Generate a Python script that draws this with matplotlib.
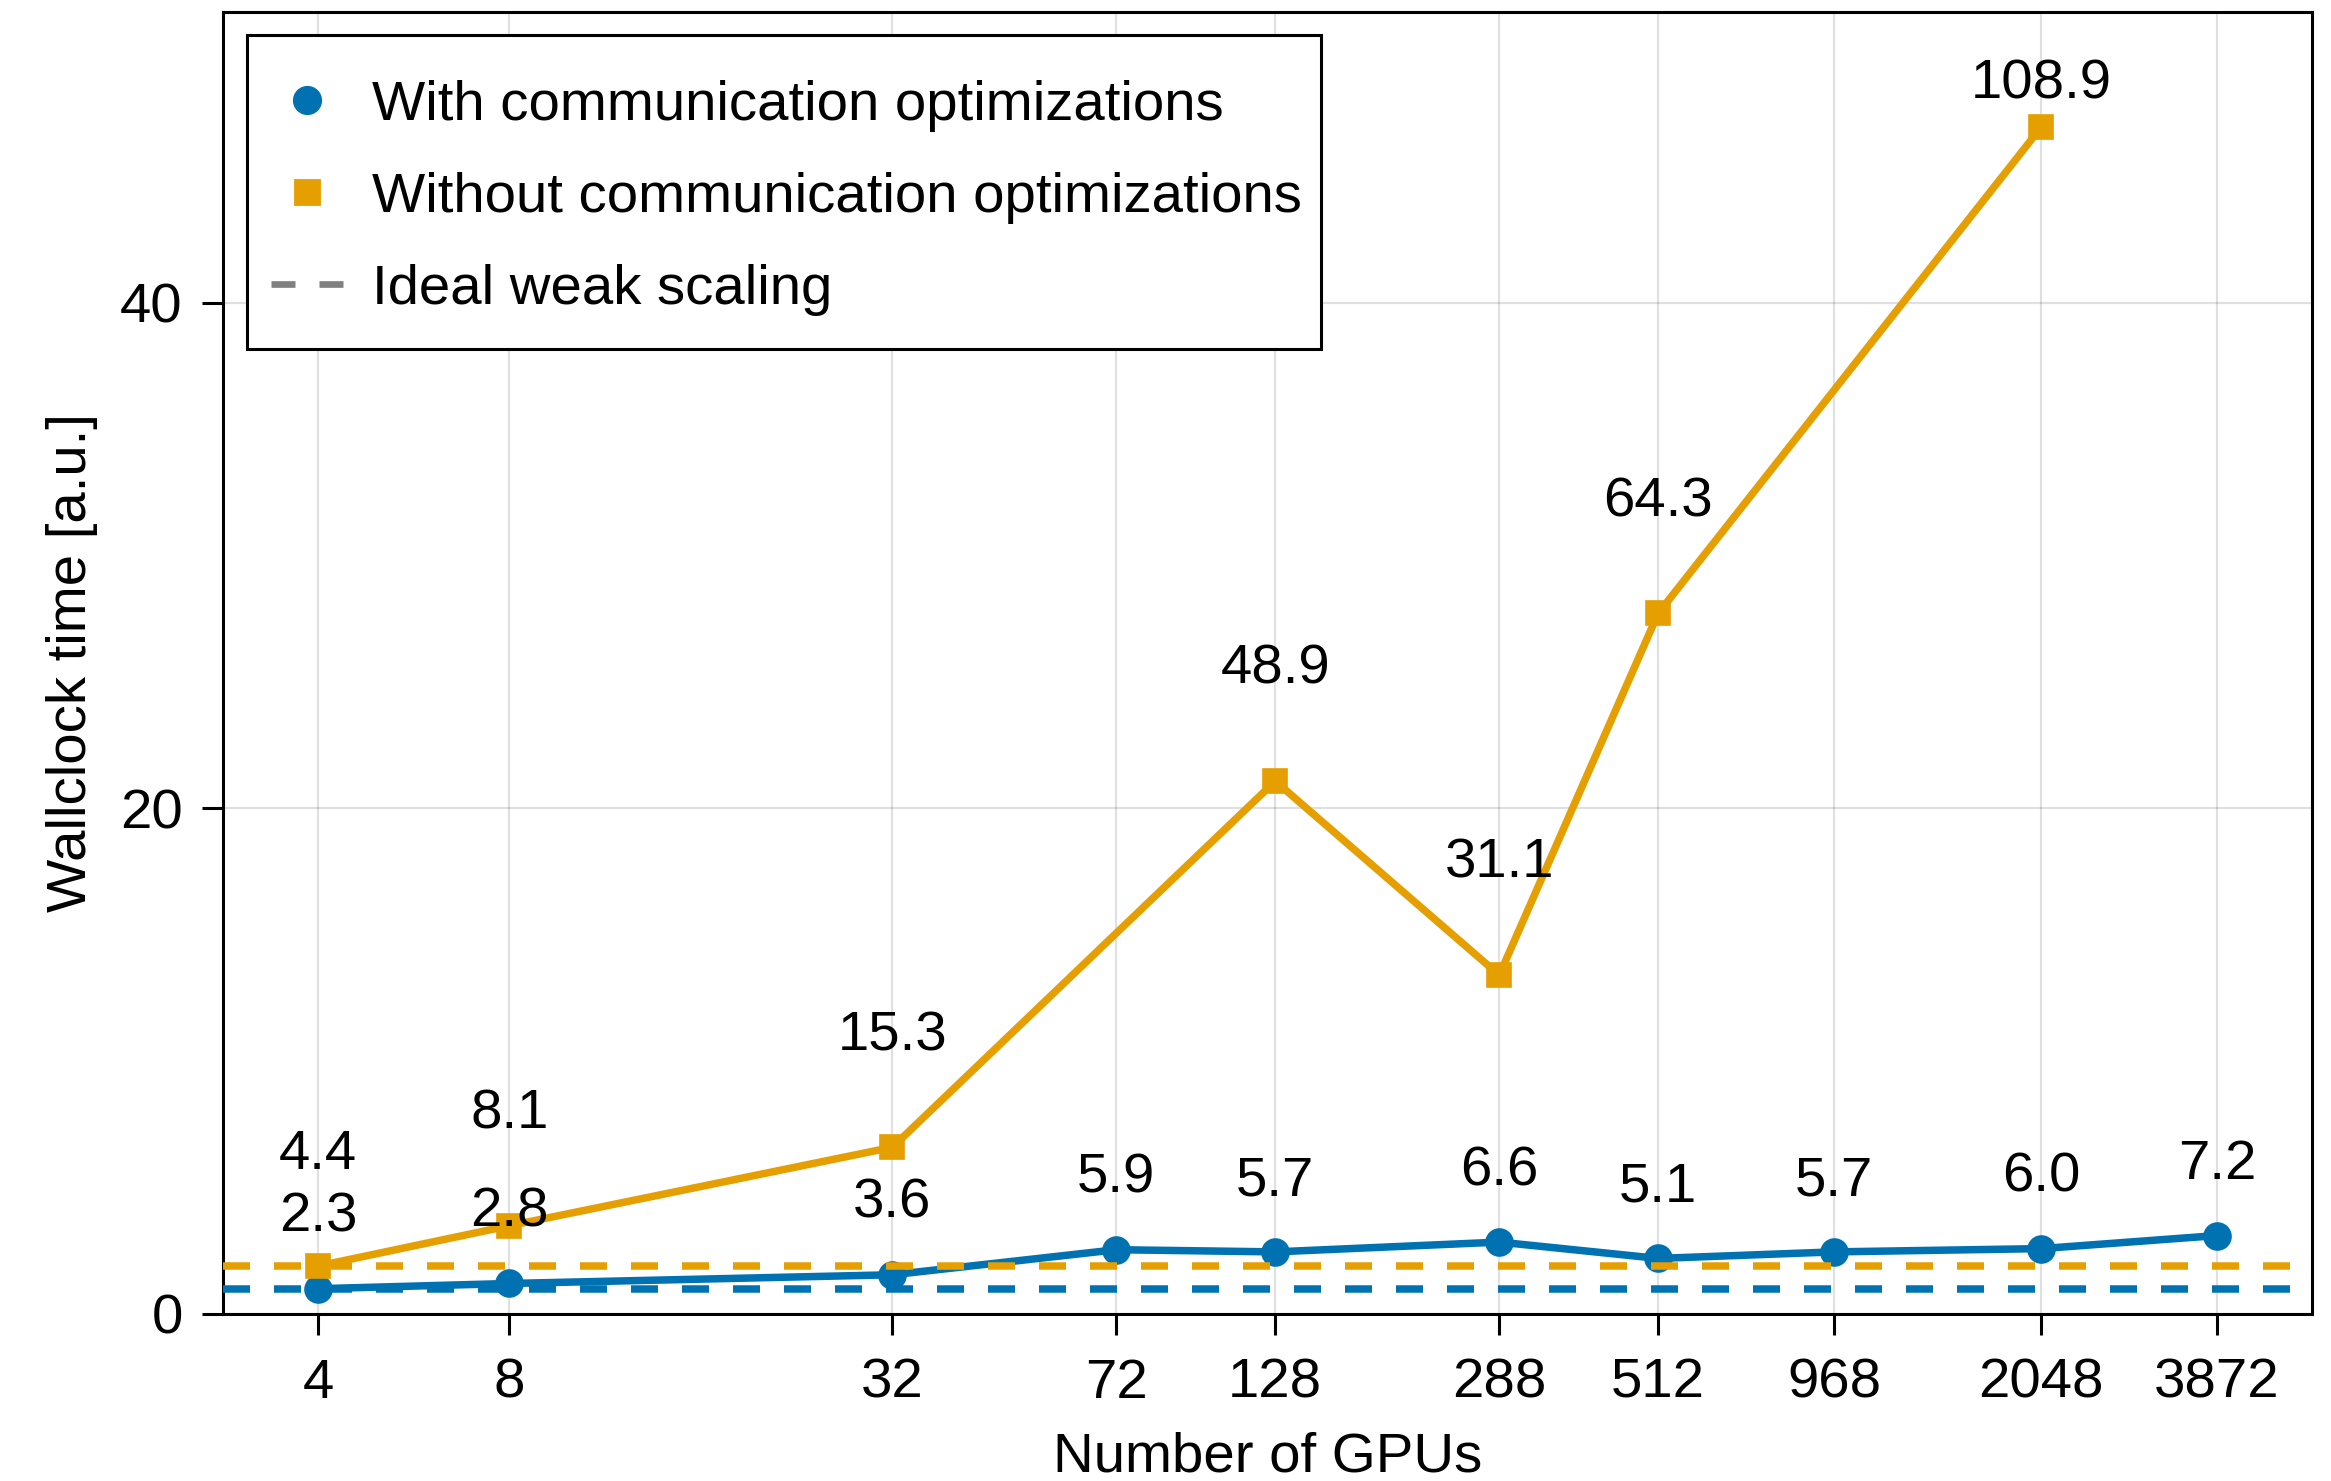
import numpy as np
import matplotlib
matplotlib.use("Agg")
import matplotlib.pyplot as plt
from matplotlib.lines import Line2D
from matplotlib.patches import Rectangle

plt.rcParams['font.family'] = ['Liberation Sans', 'DejaVu Sans']

# Weak-scaling benchmark: wallclock time per run
gpus = [4, 8, 32, 72, 128, 288, 512, 968, 2048, 3872]
time_with = [2.32, 2.8, 3.6, 5.9, 5.7, 6.6, 5.1, 5.7, 6.0, 7.2]
gpus_without = [4, 8, 32, 128, 288, 512, 2048]
time_without = [4.4, 8.1, 15.3, 48.9, 31.1, 64.3, 108.9]

# Times are shown relative to the optimized run on the smallest setup
t_ref = time_with[0]
y_with = np.array(time_with) / t_ref
y_without = np.array(time_without) / t_ref

BLUE = '#0072B2'
ORANGE = '#E69F00'
FS = 20.3

W, H, DPI = 2331, 1481, 200
AX_L, AX_R, AX_T, AX_B = 223, 2312, 12, 1314
AW, AH = AX_R - AX_L, AX_B - AX_T
fig = plt.figure(figsize=(W / DPI, H / DPI), dpi=DPI)
ax = fig.add_axes([AX_L / W, 1 - AX_B / H, AW / W, AH / H])


def ax_x(px):
    return (px - AX_L) / AW


def ax_y(px):
    return 1 - (px - AX_T) / AH


ax.set_xscale('log', base=2)
lo, hi = np.log2(gpus[0]), np.log2(gpus[-1])
pad = 0.05 * (hi - lo)
ax.set_xlim(2 ** (lo - pad), 2 ** (hi + pad))
ymax = 51.5
ax.set_ylim(0, ymax)

lw = 2.7
ax.plot(gpus, y_with, color=BLUE, lw=lw, marker='o', ms=9.5, mew=0.8, zorder=3)
ax.plot(gpus_without, y_without, color=ORANGE, lw=lw, marker='s', ms=8.4, mew=0.6, zorder=3)

# Ideal weak scaling: constant time at the smallest configuration
DASH = (3.6, 3.2)
ax.axhline(y_with[0], color=BLUE, lw=2.7, dashes=DASH, zorder=4)
ax.axhline(y_without[0], color=ORANGE, lw=2.7, dashes=DASH, zorder=4)

# Absolute timings written above each point
for x, y, t in zip(gpus, y_with, time_with):
    ax.text(x, y + 2.8, f"{t:.1f}", ha='center', va='center', fontsize=FS, zorder=5)
for x, y, t in zip(gpus_without, y_without, time_without):
    ty = min(y + 4.4, ymax - 2.85)
    ax.text(x, ty, f"{t:.1f}", ha='center', va='center', fontsize=FS, zorder=5)

ax.set_xticks(gpus)
ax.set_xticklabels([str(g) for g in gpus])
ax.xaxis.set_minor_locator(matplotlib.ticker.NullLocator())
ax.set_yticks([0, 20, 40])
ax.tick_params(axis='both', direction='out', length=7.5, width=1.1, labelsize=FS)
ax.tick_params(axis='x', pad=8.3)
ax.tick_params(axis='y', pad=7)
ax.grid(True, color='black', alpha=0.12, lw=0.8, zorder=0)
ax.set_axisbelow(True)
for s in ax.spines.values():
    s.set_linewidth(1.1)

ax.set_xlabel("Number of GPUs", fontsize=FS)
ax.set_ylabel("Wallclock time [a.u.]", fontsize=FS)
ax.xaxis.set_label_coords(0.5, ax_y(1458))
ax.xaxis.label.set_va('center')
ax.yaxis.set_label_coords(ax_x(72), 0.5)
ax.yaxis.label.set_va('center')

# Legend box with its entries
box = Rectangle((ax_x(247), ax_y(349)), ax_x(1321) - ax_x(247), ax_y(35) - ax_y(349),
                transform=ax.transAxes, facecolor='white', edgecolor='black',
                lw=1.1, zorder=6, clip_on=False)
ax.add_patch(box)

handles = [
    Line2D([], [], color=BLUE, marker='o', ms=10, mew=0.5, ls='none'),
    Line2D([], [], color=ORANGE, marker='s', ms=9.2, mew=0.3, ls='none'),
    Line2D([], [], color='gray', lw=2.4, dashes=(3.6, 3.6)),
]
labels = ["With communication optimizations",
          "Without communication optimizations",
          "Ideal weak scaling"]
leg = ax.legend(handles, labels, loc='center left',
                bbox_to_anchor=(ax_x(271), ax_y(198)), borderaxespad=0,
                fontsize=FS, frameon=False, borderpad=0, labelspacing=0.71,
                handlelength=1.29, handletextpad=0.5)
leg.set_zorder(7)

fig.savefig("out.png", dpi=DPI)
